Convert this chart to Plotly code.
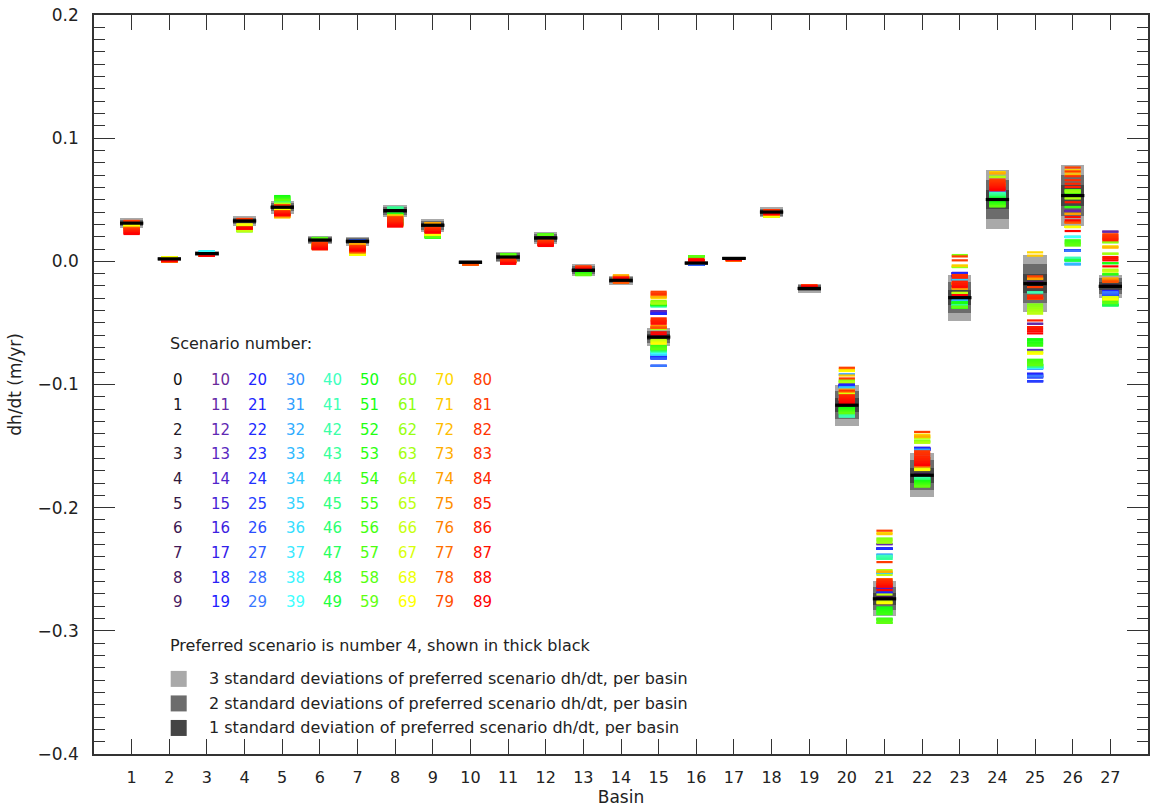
import numpy as np
import plotly.graph_objects as go

# ---------------- data (dh/dt in mm/yr, converted to m/yr below) ----------------
basins = list(range(1, 28))
preferred_scenario = 4
# one standard deviation of preferred scenario dh/dt, per basin (mm/yr)
sd_mm = [1.3, 0.55, 0.6, 1.27, 1.7, 1.08, 1.27, 1.6, 1.8, 0.55, 1.45, 1.6, 1.6, 1.2,
         2.5, 0.6, 0.5, 1.4, 1.2, 5.6, 4.7, 6.0, 6.2, 8.1, 7.8, 8.3, 3.2]

# scenario 0..89 dh/dt per basin (mm/yr), ten scenarios per row
b01 = [31, 31, 31, 31, 31, 31, 31, 31, 31, 31,
       29, 29, 29, 28.5, 28.5, 28.5, 28, 28, 28, 28,
       29, 29, 28.5, 28.5, 28, 28, 28, 27.5, 27.5, 27.5,
       28.5, 28.5, 28, 28, 28, 27.5, 27.5, 27, 27, 27,
       28.5, 28.5, 28.5, 28, 28, 28, 28, 28, 27.5, 27.5,
       28.5, 28.5, 28.5, 28.2, 28.2, 28.2, 28.2, 28, 28, 28,
       30, 30, 29.5, 29.5, 29.5, 29.3, 29.3, 29.3, 29.3, 29.3,
       27.5, 27.5, 27.2, 27.2, 27, 27, 27, 27, 26.8, 26.8,
       32.8, 32.5, 26, 25.5, 25, 24.5, 24, 23.3, 22.8, 22.2]
b02 = [2, 2, 2, 2, 2, 2, 2, 2, 2, 2,
       1.5, 1.5, 1.5, 1.5, 1.5, 1.5, 1.5, 1.5, 1.5, 1.5,
       1.5, 1.5, 1.5, 1.5, 1.5, 1.5, 1.5, 1.5, 1.5, 1.5,
       1.5, 1.5, 1.5, 1.5, 1.5, 1.5, 1.5, 1.5, 1.5, 1.5,
       1.5, 1.5, 1.5, 1.5, 1.5, 1.5, 1.5, 1.5, 1.5, 1.5,
       1.5, 1.5, 1.5, 1.5, 1.5, 1.5, 1.5, 1.5, 1.5, 1.5,
       3.2, 3.2, 3.2, 3.2, 3.2, 3.2, 3.2, 3.2, 3.2, 3.2,
       -0.3, -0.3, -0.3, -0.3, -0.3, -0.3, -0.3, -0.3, -0.3, -0.3,
       1, 1, 1, 0.8, 0.8, 0.8, 0.6, 0.6, 0.6, 0.6]
b03 = [6.3, 6.3, 6.3, 6.3, 6.3, 6.3, 6.3, 6.3, 6.3, 6.3,
       6, 6, 6, 6, 6, 6, 6, 6, 6, 6,
       6, 6, 6, 6, 6, 6, 6, 6, 6, 6,
       7.9, 7.9, 7.9, 7.9, 7.9, 7.9, 7.9, 7.9, 7.9, 7.9,
       5, 5, 5, 5, 5, 5, 5, 5, 5, 5,
       5, 5, 5, 5, 5, 5, 5, 5, 5, 5,
       5, 5, 5, 5, 5, 5, 5, 5, 5, 5,
       5, 5, 5, 5, 5, 5, 5, 5, 5, 5,
       4.8, 4.8, 4.8, 4.6, 4.6, 4.6, 4.6, 4.6, 4.6, 4.6]
b04 = [32.8, 32.8, 32.8, 32.8, 32.8, 32.8, 32.8, 32.8, 32.8, 32.8,
       28, 28, 27.8, 27.6, 27.4, 27.2, 27, 27, 26.8, 26.8,
       28, 28, 27.8, 27.6, 27.4, 27.2, 27, 27, 26.8, 26.8,
       28, 28, 27.8, 27.6, 27.4, 27.2, 27, 27, 26.8, 26.8,
       28, 28, 27.8, 27.6, 27.4, 27.2, 27, 27, 26.8, 26.8,
       28, 28, 27.8, 27.6, 27.4, 27.2, 27, 27, 26.8, 26.8,
       24.4, 24.4, 24.6, 24.8, 25, 25, 25, 29.8, 29.8, 29.8,
       27, 27, 27, 27, 27, 27, 27, 27, 27, 27,
       34.4, 34.2, 33.8, 27.6, 27.4, 27.2, 27, 26.8, 26.6, 26.6]
b05 = [44, 44, 44, 44, 43.9, 43.5, 43.5, 43.5, 43.5, 43.5,
       40, 40, 39.5, 39.5, 39, 39, 38.5, 38.5, 38, 38,
       40, 40, 39.5, 39.5, 39, 39, 38.5, 38.5, 38, 38,
       48.5, 48.5, 48.2, 48.2, 48, 40, 40, 39, 39, 38,
       48.5, 48.5, 48.5, 40, 39.5, 39, 39, 38.5, 38, 38,
       53, 52.5, 52, 51.5, 51, 50.5, 50, 50, 49.6, 49.6,
       46.6, 46.6, 46.6, 46.6, 46.6, 46.6, 42, 42, 42, 42,
       35.8, 35.8, 36, 36, 36.5, 37, 37, 37.5, 38, 38,
       45.5, 45.5, 40.7, 40.2, 39.7, 39.2, 38.7, 38.2, 37.8, 37.4]
b06 = [17.3, 17.3, 17.3, 17.3, 17.3, 17.3, 17.3, 17.3, 17.3, 17.3,
       14, 14, 13.5, 13, 13, 12.5, 12, 11.5, 11, 11,
       14, 14, 13.5, 13, 13, 12.5, 12, 11.5, 11, 11,
       14, 14, 13.5, 13, 13, 12.5, 12, 11.5, 11, 11,
       14, 14, 13.5, 13, 13, 12.5, 12, 11.5, 11, 11,
       18.9, 18.9, 18.9, 18.9, 18.7, 18.7, 18.5, 18.5, 18.5, 18.5,
       14, 14, 13.5, 13, 12.5, 12, 11.5, 11, 10.5, 10,
       14, 13.5, 13, 12.5, 12, 11.5, 11, 10.5, 10, 10,
       15.2, 14.6, 14, 13.4, 12.8, 12.2, 11.6, 11, 10.4, 9.8]
b07 = [16.3, 16.3, 16.3, 16.3, 16.3, 16.3, 16.3, 16.3, 16.3, 16.3,
       16.8, 16.8, 16.8, 16.8, 16.8, 16.8, 16.8, 16.8, 16.8, 16.8,
       16.8, 16.8, 16.8, 16.8, 16.8, 16.8, 16.8, 16.8, 16.8, 16.8,
       11, 11, 10.5, 10.5, 10, 10, 10, 9.5, 9.5, 9.5,
       11, 11, 10.5, 10.5, 10, 10, 10, 9.5, 9.5, 9.5,
       11, 11, 10.5, 10.5, 10, 10, 10, 9.5, 9.5, 9.5,
       5.4, 5.4, 5.4, 5.4, 5.4, 5.4, 5.4, 5.4, 5.4, 5.4,
       13.6, 13.6, 13.6, 13.6, 13.6, 7.5, 7.5, 7.5, 7.5, 7.5,
       12.4, 12, 11.6, 11.2, 10.8, 10.4, 10, 9.6, 9.2, 8.7]
b08 = [41.2, 41.2, 41.2, 41.2, 41.2, 41.2, 41.2, 41.2, 41.2, 41.2,
       34, 33.5, 33, 32.5, 32, 31.5, 31, 30.5, 30, 30,
       34, 33.5, 33, 32.5, 32, 31.5, 31, 30.5, 30, 30,
       34, 33.5, 33, 32.5, 32, 31.5, 31, 30.5, 30, 30,
       43.4, 43.4, 43.4, 43.4, 43.4, 38.5, 38.5, 38.5, 38.5, 38.5,
       38.5, 38.5, 38, 38, 36, 35, 34, 33, 32, 31,
       34, 33, 32, 31, 30, 30, 30, 29, 29, 29,
       37.3, 37, 36.5, 36, 35, 34, 33, 32, 31, 30,
       35.8, 35, 34, 33, 32, 31, 30.5, 29.8, 29, 28.2]
b09 = [29.3, 29.3, 29.3, 29.3, 29.3, 29.3, 29.3, 29.3, 29.3, 29.3,
       26, 26, 25.5, 25.5, 25, 25, 24.5, 24.5, 24, 24,
       26, 26, 25.5, 25.5, 25, 25, 24.5, 24.5, 24, 24,
       26, 26, 25.5, 25.5, 25, 25, 24.5, 24.5, 24, 24,
       26, 26, 25.5, 25.5, 25, 25, 24.5, 24.5, 24, 24,
       19.5, 19.5, 19.5, 19.5, 19.5, 20, 20, 20, 20, 20,
       21.7, 21.7, 21.7, 21.7, 21.7, 21.7, 21.7, 21.7, 21.7, 21.7,
       30.9, 30.9, 30.9, 30.9, 30.9, 26, 26, 25, 25, 24,
       27.6, 27, 26.5, 26, 25.5, 25, 24.5, 24, 23.6, 23.3]
b10 = [-0.8, -0.8, -0.8, -0.8, -0.8, -0.8, -0.8, -0.8, -0.8, -0.8,
       -1.2, -1.2, -1.2, -1.2, -1.2, -1.2, -1.2, -1.2, -1.2, -1.2,
       -1.2, -1.2, -1.2, -1.2, -1.2, -1.2, -1.2, -1.2, -1.2, -1.2,
       -1.2, -1.2, -1.2, -1.2, -1.2, -1.2, -1.2, -1.2, -1.2, -1.2,
       -1.2, -1.2, -1.2, -1.2, -1.2, -1.2, -1.2, -1.2, -1.2, -1.2,
       -1.2, -1.2, -1.2, -1.2, -1.2, -1.2, -1.2, -1.2, -1.2, -1.2,
       -1.2, -1.2, -1.2, -1.2, -1.2, -1.2, -1.2, -1.2, -1.2, -1.2,
       -2.7, -2.7, -2.7, -2.7, -2.7, -2.7, -2.7, -2.7, -2.7, -2.7,
       -1.2, -1.2, -1.2, -1.2, -1.2, -1.2, -1.2, -1.2, -1.2, -1.2]
b11 = [3.5, 3.5, 3.5, 3.5, 3.5, 3.5, 3.5, 3.5, 3.5, 3.5,
       0, 0, 0, 0, 0, 0, 0, 0, 0, 0,
       0, 0, 0, 0, 0, 0, 0, 0, 0, 0,
       0, 0, 0, 0, 0, 0, 0, 0, 0, 0,
       0, 0, 0, 0, 0, 0, 0, 0, 0, 0,
       5.4, 5.4, 5.4, 5.4, 5.4, 5.4, 5.4, 5.4, 5.4, 5.4,
       0, 0, 0, 0, 0, 0, 0, 0, 0, 0,
       0, 0, 0, 0, 0, 0, 0, 0, 0, 0,
       1.9, 1.5, 1, 0.5, 0, -0.5, -1, -1.5, -1.9, -1.9]
b12 = [19, 19, 19, 19, 19, 19, 19, 19, 19, 19,
       14, 14, 14, 14, 14, 14, 14, 14, 14, 14,
       14, 14, 14, 14, 14, 14, 14, 14, 14, 14,
       14, 14, 14, 14, 14, 14, 14, 14, 14, 14,
       14, 14, 14, 14, 14, 14, 14, 14, 14, 14,
       21.5, 21.5, 21.5, 21.5, 21.5, 21.5, 21.5, 21.5, 21.5, 21.5,
       14, 14, 14, 14, 14, 14, 14, 14, 14, 14,
       14, 14, 14, 14, 14, 14, 14, 14, 14, 14,
       17, 16.5, 16, 15.5, 15, 14.5, 14, 13.5, 13, 12.5]
b13 = [-7.3, -7.3, -7.3, -7.3, -7.3, -7.3, -7.3, -7.3, -7.3, -7.3,
       -10, -10, -10, -10, -10, -10, -10, -10, -10, -10,
       -10, -10, -10, -10, -10, -10, -10, -10, -10, -10,
       -10, -10, -10, -10, -10, -10, -10, -10, -10, -10,
       -10, -10, -10, -10, -10, -10, -10, -10, -10, -10,
       -9.5, -9.5, -10, -10, -10, -10.5, -10.5, -11.1, -11.1, -11.1,
       -5, -5, -5, -5, -5, -5, -5, -5, -5, -5,
       -5, -5, -5, -5, -5, -5, -5, -5, -5, -5,
       -4.1, -4.4, -4.7, -5, -5.3, -5.6, -5.9, -6.2, -6.2, -6.2]
b14 = [-15.4, -15.4, -15.4, -15.4, -15.4, -15.4, -15.4, -15.4, -15.4, -15.4,
       -13.5, -13.5, -13.5, -13.5, -13.5, -13.5, -13.5, -13.5, -13.5, -13.5,
       -13.5, -13.5, -13.5, -13.5, -13.5, -13.5, -13.5, -13.5, -13.5, -13.5,
       -13.5, -13.5, -13.5, -13.5, -13.5, -13.5, -13.5, -13.5, -13.5, -13.5,
       -13.5, -13.5, -13.5, -13.5, -13.5, -13.5, -13.5, -13.5, -13.5, -13.5,
       -13.5, -13.5, -13.5, -13.5, -13.5, -13.5, -13.5, -13.5, -13.5, -13.5,
       -13.5, -13.5, -13.5, -13.5, -13.5, -13.5, -13.5, -13.5, -13.5, -13.5,
       -11.7, -11.7, -11.7, -11.7, -11.7, -17.1, -17.1, -17.1, -17.1, -17.1,
       -12.8, -13, -13.2, -13.4, -13.6, -13.8, -13.8, -13.8, -13.8, -13.8]
b15 = [-62, -62, -61.5, -61.5, -61.5, -61.5, -61, -61, -60.5, -60.5,
       -40.4, -40.4, -41, -41.5, -42.5, -42.5, -77.2, -78, -78.9, -84.8,
       -42.5, -42.5, -77.2, -77.5, -78, -78.5, -78.9, -78.9, -84.8, -84.8,
       -74.5, -74.5, -75, -75, -75.6, -75.6, -75.6, -74, -74, -74,
       -36.6, -36.6, -36, -36, -73, -73, -72, -72, -71.3, -71.3,
       -35.5, -35.5, -35, -35, -68.5, -69, -69.5, -70, -70.5, -71.3,
       -32.3, -33, -33.5, -34.4, -55, -63.7, -64.5, -65.3, -66, -66.9,
       -30, -29, -28.5, -28.5, -52.3, -52.8, -53.4, -53.9, -53.9, -53.9,
       -24.7, -26, -27, -46.3, -47.5, -48.5, -49.5, -50.7, -57.7, -59.3]
b16 = [-1.4, -1.4, -1.4, -1.4, -1.4, -1.4, -1.4, -1.4, -1.4, -1.4,
       -2.4, -2.4, -2.4, -2.4, -2.4, -2.4, -2.4, -2.4, -2.4, -2.4,
       -2.4, -2.4, -2.4, -2.4, -2.4, -2.4, -2.4, -2.4, -2.4, -2.4,
       0.5, 0.5, 0.5, 0.5, 0.5, 0.5, 0.5, 0.5, 0.5, 0.5,
       0.5, 0.5, 0.5, 0.5, 0.5, 0.5, 0.5, 0.5, 0.5, 0.5,
       4.1, 4.1, 4.1, 4.1, 4.1, 4.1, 4.1, 4.1, 4.1, 4.1,
       1, 1, 1, 1, 1, 1, 1, 1, 1, 1,
       1, 1, 1, 1, 1, 1, 1, 1, 1, 1,
       1.9, 1.5, 1.1, 0.7, 0.2, 0.2, 0.2, 0.5, 1, 1.5]
b17 = [2.4, 2.4, 2.4, 2.4, 2.4, 2.4, 2.4, 2.4, 2.4, 2.4,
       2, 2, 2, 2, 2, 2, 2, 2, 2, 2,
       2, 2, 2, 2, 2, 2, 2, 2, 2, 2,
       2, 2, 2, 2, 2, 2, 2, 2, 2, 2,
       2, 2, 2, 2, 2, 2, 2, 2, 2, 2,
       2, 2, 2, 2, 2, 2, 2, 2, 2, 2,
       2, 2, 2, 2, 2, 2, 2, 2, 2, 2,
       0.8, 0.8, 0.8, 0.8, 0.8, 0.8, 0.8, 0.8, 0.8, 0.8,
       1.6, 1.6, 1.6, 1.6, 1.6, 1.6, 1.6, 1.6, 1.6, 1.6]
b18 = [40, 40, 40, 40, 40, 40, 40, 40, 40, 40,
       39, 39, 39, 39, 39, 39, 39, 39, 39, 39,
       39, 39, 39, 39, 39, 39, 39, 39, 39, 39,
       39, 39, 39, 39, 39, 39, 39, 39, 39, 39,
       39, 39, 39, 39, 39, 39, 39, 39, 39, 39,
       37, 37, 37, 37, 37, 37, 37, 37, 37, 37,
       36.5, 36.5, 36.5, 36.5, 36.5, 36.5, 36.5, 36.5, 36.5, 36.5,
       38, 38, 38, 38, 38, 38, 38, 38, 38, 38,
       41.5, 41.5, 41.5, 38.5, 38.5, 38.5, 38.5, 38.5, 38.5, 38.5]
b19 = [-22, -22, -22, -22, -22, -22, -22, -22, -22, -22,
       -21, -21, -21, -21, -21, -21, -21, -21, -21, -21,
       -21, -21, -21, -21, -21, -21, -21, -21, -21, -21,
       -21, -21, -21, -21, -21, -21, -21, -21, -21, -21,
       -21, -21, -21, -21, -21, -21, -21, -21, -21, -21,
       -21, -21, -21, -21, -21, -21, -21, -21, -21, -21,
       -21, -21, -21, -21, -21, -21, -21, -21, -21, -21,
       -21, -21, -21, -21, -21, -21, -21, -21, -21, -21,
       -19.3, -19.5, -19.8, -20, -20.3, -20.5, -20.5, -20.5, -20.5, -20.5]
b20 = [-117, -117, -117, -117, -116.8, -116.5, -116.5, -116, -116, -116,
       -100, -100, -100.5, -101, -101, -101.6, -101.6, -101.6, -101, -101,
       -100, -100.5, -101, -101.6, -102, -102, -110, -110, -110, -110,
       -91.9, -91.9, -102.5, -102.5, -102.5, -110, -110, -112, -112, -112,
       -126, -126, -125, -124, -123, -122, -121, -120, -119.5, -119,
       -119, -119.5, -120, -120.5, -121, -121.5, -122, -122.5, -123, -123.3,
       -96.5, -97, -97.5, -98, -98, -106.5, -107, -107.6, -89, -89,
       -87.5, -92.7, -104.3, -104.3, -106, -110, -112, -112, -112, -112,
       -86.4, -95.1, -105, -108.7, -109.5, -110.5, -111.5, -112.5, -114, -115.2]
b21 = [-274, -274, -274, -274, -274, -273.5, -273, -272.5, -269.1, -265,
       -229.6, -229.6, -233.3, -233.3, -233.3, -265, -265, -265, -269.1, -269.1,
       -233.3, -233.3, -233.3, -233.3, -262, -262, -262, -262, -262, -262,
       -238.2, -238.2, -253.2, -253.2, -253.2, -240, -240, -240, -260, -260,
       -239, -240, -241.5, -241.5, -285, -286, -286.4, -290.2, -291, -293.5,
       -281, -282, -283, -284, -285, -286.4, -290.2, -291, -292.5, -293.5,
       -225, -226, -227, -228.5, -250.7, -254.6, -270.5, -276, -277, -277.6,
       -220.5, -221.5, -252, -252, -258, -260, -262, -262, -262, -262,
       -218.7, -244.2, -258.3, -259.5, -260.5, -261.5, -262.5, -263.5, -264.2, -266.8]
b22 = [-174, -174, -173.7, -173.7, -173.7, -173.5, -173.5, -173, -173, -173,
       -151.5, -151.5, -152, -152, -152.5, -152.5, -153.1, -153.1, -153.1, -153.1,
       -151.5, -152, -152.5, -153.1, -160, -160, -160, -160, -160, -160,
       -153, -153, -160, -160, -160, -160, -160, -160, -160, -160,
       -175, -175.5, -176, -176.5, -177, -177, -178, -178, -179, -179,
       -178.6, -179, -179.5, -180, -180.5, -181, -181.5, -182, -182.5, -182.9,
       -145.5, -146, -146.5, -147.2, -147.2, -143.5, -143.5, -168.3, -168.8, -169.4,
       -140.7, -141.5, -142.3, -142.3, -166.5, -166.5, -160, -160, -160, -160,
       -138.5, -154.2, -155.5, -157, -158.5, -160, -161.5, -163, -164.5, -165.6]
b23 = [-30, -30, -29.5, -29.5, -29.5, -29.5, -29, -29, -29, -29,
       -9.5, -9.5, -9.5, -10, -10, -12, -12, -12, -12, -12,
       -9.5, -10, -12, -12, -15, -15, -15, -15, -15, -15,
       -31.7, -31.7, -31.7, -31.7, -15, -15, -18, -18, -18, -18,
       -35.5, -35.5, -35.5, -35.5, -35.5, -33.5, -33.5, -33.5, -33.5, -33.5,
       -33.5, -33.5, -37.6, -37.6, -37.6, -37.6, -37.6, -37, -37, -37,
       5.1, -4.6, -4.6, -25.7, -25.7, -25.7, -18, -18, -18, -18,
       -3.5, -3.5, -22, -22, -22, -18, -18, -18, -18, -18,
       4, 0.8, -11.1, -12, -13.3, -16.5, -18, -19.5, -20.9, -27.4]
b24 = [50.5, 50.5, 50.2, 50.2, 50.2, 50, 50, 50, 50, 50,
       57.2, 57.2, 57.2, 57.2, 57.2, 57, 57, 57, 57, 57,
       57, 57, 57, 57, 56.8, 56.8, 56.8, 56.8, 56.8, 56.8,
       55, 55, 54, 54, 53, 53, 52, 52, 52, 52,
       55.5, 55, 54.5, 54, 53.5, 53, 52.5, 52, 51.8, 51.8,
       48.5, 48, 47.5, 47, 46.5, 46, 45.5, 45, 44.7, 44.7,
       68.5, 68.5, 68.5, 68.5, 68.5, 62, 62, 62, 62, 62,
       72.4, 72, 71.7, 71.3, 63, 63, 63, 62, 62, 62,
       66.4, 65.5, 64.5, 63.5, 62.5, 61.5, 60.5, 59.5, 58.5, 57.7]
b25 = [-19, -18.5, -18.5, -18.1, -18.1, -18, -18, -17.5, -17.5, -17,
       -50.7, -50.7, -72, -72, -91.3, -92, -93, -94.1, -97.3, -97.3,
       -91.3, -92, -93, -94.1, -97.3, -97.3, -94, -94, -93, -93,
       -87, -87, -87, -86.5, -86.5, -86, -86, -86, -86, -86,
       -25.2, -25.2, -85.5, -85.5, -85.5, -84.3, -84.3, -84, -84, -84,
       -63.2, -64.5, -66, -67, -68.5, -79.9, -81, -82, -83, -84.3,
       -35, -36.5, -38, -39.5, -41, -42.5, -73.5, -74, -74.5, -75,
       7.3, 4.6, -14, -14, -14, -30, -30, -30, -30, -30,
       -12.2, -20.9, -27.9, -29, -30.1, -48, -53.4, -55, -56.7, -58.5]
b26 = [54, 54, 53.5, 53.5, 53.4, 53, 53, 52.5, 40.9, 40.9,
       40.9, 40.9, 8.9, 8.9, 8.9, 8.9, 8.9, 8.9, 8.9, 8.9,
       8.9, 8.9, 8.9, 8.9, 8.5, 8.5, 8.5, 8.5, 8.5, 8.5,
       -2.4, -2.4, -2, -2, 19.8, 19.8, 19.8, 19.8, 19.8, 19.8,
       3, 2.5, 2, 1.5, 1, 0.8, 0.8, 0.8, 0.8, 0.8,
       57.7, 56.5, 55, 44.1, 44.1, 17.1, 16, 15, 14, 12.8,
       57.7, 57, 56, 51.2, 51.2, 27.9, 27.9, 27.9, 27.9, 27.9,
       74, 72, 70, 38.5, 38.5, 31.7, 31.7, 31.7, 31.7, 31.7,
       76.2, 73, 69.1, 65.9, 63, 60.4, 48, 36, 33.3, 24.6]
b27 = [-20.5, -20.5, -20.3, -20.3, -20.3, -20, -20, -20, -20, -20,
       24.1, 24.1, -24.1, -24.1, -25, -25, -26, -26, -27.4, -27.4,
       -24.1, -25, -26, -27.4, -27.4, -27, -27, -26, -26, -25,
       -35.5, -35.5, -35, -35, -35, -35, -35, -35, -35, -35,
       -35.5, -35.5, -35.5, -35.5, -35.5, -35.5, -35.5, -35.5, -35.5, -35.5,
       -1.5, -1.5, -10.5, -10.5, -29, -30, -31, -32, -33, -33.9,
       15.5, 15.5, 6.2, 6.2, -6.7, -7.5, -8.4, -29, -30, -31,
       12.2, 11.6, 11.1, -13.8, -14.5, -15, -15.5, -16, -16.5, -16.5,
       22, 21, 20, 19, 18, 17.1, 3.5, 2.2, 0.8, -4.1]

scenario_rows = [b01, b02, b03, b04, b05, b06, b07, b08, b09, b10, b11, b12, b13, b14,
                 b15, b16, b17, b18, b19, b20, b21, b22, b23, b24, b25, b26, b27]

legend_lines = ["3 standard deviations of preferred scenario dh/dt, per basin",
                "2 standard deviations of preferred scenario dh/dt, per basin",
                "1 standard deviation of preferred scenario dh/dt, per basin"]

# ---------------- styling ----------------
FONT = "DejaVu Sans"
TXT = "#222222"
anchors = [(0, "#101010"), (3, "#2a1a30"), (6, "#3c1650"), (9, "#4a1a64"),
           (10, "#6a2a9a"), (13, "#5a28c0"), (16, "#3c20e0"), (19, "#2020ff"),
           (24, "#2030ff"), (29, "#3a78ff"), (30, "#3090ff"), (34, "#30c8ff"),
           (39, "#40ffff"), (40, "#40ffc0"), (45, "#30ff80"), (49, "#20ff40"),
           (50, "#10ff10"), (59, "#60ff10"), (60, "#80ff10"), (66, "#c8ff10"),
           (69, "#ffff00"), (70, "#ffd800"), (74, "#ffa000"), (79, "#ff5000"),
           (80, "#ff4000"), (85, "#ff2000"), (89, "#ff0000")]


def hex2rgb(h):
    return np.array([int(h[i:i + 2], 16) for i in (1, 3, 5)], float)


aidx = np.array([a[0] for a in anchors], float)
argb = np.array([hex2rgb(a[1]) for a in anchors])
scen_colors = []
for i in range(90):
    c = [np.interp(i, aidx, argb[:, k]) for k in range(3)]
    scen_colors.append("rgb(%d,%d,%d)" % tuple(int(round(v)) for v in c))

vals = np.array(scenario_rows, float) / 1000.0      # m/yr, shape (27, 90)
sd = np.array(sd_mm) / 1000.0
pref = vals[:, preferred_scenario]

fig = go.Figure()

box_colors = {3: "#a9a9a9", 2: "#6c6c6c", 1: "#454545"}
for k in (3, 2, 1):
    fig.add_trace(go.Bar(x=basins, y=2 * k * sd, base=pref - k * sd, width=0.62,
                         marker=dict(color=box_colors[k], line=dict(width=0)),
                         hoverinfo="skip", showlegend=False))

half_c = 0.215
for i in range(90):
    if i == preferred_scenario:
        continue
    xs, ys = [], []
    for bi, b in enumerate(basins):
        xs += [b - half_c, b + half_c, None]
        ys += [vals[bi, i], vals[bi, i], None]
    fig.add_trace(go.Scatter(x=xs, y=ys, mode="lines",
                             line=dict(color=scen_colors[i], width=2.2),
                             hoverinfo="skip", showlegend=False))

xs, ys = [], []
for bi, b in enumerate(basins):
    xs += [b - 0.31, b + 0.31, None]
    ys += [pref[bi], pref[bi], None]
fig.add_trace(go.Scatter(x=xs, y=ys, mode="lines", line=dict(color="black", width=3.2),
                         hoverinfo="skip", showlegend=False))


# legend block (placed in data coordinates from pixel rows)
def ypix(p):
    return (261.0 - p) / 1230.0


ann = []
ann.append(dict(x=1.96, y=ypix(343), text="Scenario number:", xanchor="left",
                yanchor="middle", showarrow=False, font=dict(size=16, color=TXT, family=FONT)))
for c in range(9):
    for r in range(10):
        n = 10 * c + r
        ann.append(dict(x=2.05 + c * 0.995, y=ypix(380 + 24.6 * r), text=str(n),
                        xanchor="left", yanchor="middle", showarrow=False,
                        font=dict(size=15, color=scen_colors[n], family=FONT)))
ann.append(dict(x=1.96, y=ypix(645), text="Preferred scenario is number %d, shown in thick black"
                % preferred_scenario, xanchor="left", yanchor="middle", showarrow=False,
                font=dict(size=16, color=TXT, family=FONT)))
leg_y = [ypix(678 + 24.5 * j) for j in range(3)]
for j, t in enumerate(legend_lines):
    ann.append(dict(x=3.0, y=leg_y[j], text=t, xanchor="left", yanchor="middle",
                    showarrow=False, font=dict(size=16, color=TXT, family=FONT)))
fig.add_trace(go.Scatter(x=[2.25, 2.25, 2.25], y=leg_y, mode="markers",
                         marker=dict(symbol="square", size=16,
                                     color=[box_colors[3], box_colors[2], box_colors[1]]),
                         hoverinfo="skip", showlegend=False))

fig.update_layout(
    width=1153, height=810, margin=dict(l=94, r=3, t=15, b=56),
    paper_bgcolor="white", plot_bgcolor="white", barmode="overlay", bargap=0,
    showlegend=False, annotations=ann,
    font=dict(family=FONT, color=TXT, size=16),
)
fig.update_xaxes(range=[0, 28], tickvals=basins, ticks="inside", ticklen=15, tickwidth=1,
                 tickcolor="#333", showline=True, linecolor="#333", linewidth=1.5,
                 mirror="ticks", showgrid=False, zeroline=False,
                 tickfont=dict(size=16, family=FONT, color=TXT), ticklabelstandoff=8,
                 title=dict(text="Basin", font=dict(size=17, family=FONT, color=TXT), standoff=4))
fig.update_yaxes(range=[-0.4, 0.2], dtick=0.1, tick0=0, tickformat=".1f", ticks="inside",
                 ticklen=21, tickwidth=1, tickcolor="#333", showline=True, linecolor="#333",
                 linewidth=1.5, mirror="ticks", showgrid=False, zeroline=False,
                 minor=dict(dtick=0.01, ticks="inside", ticklen=11, tickcolor="#333", showgrid=False),
                 tickfont=dict(size=17, family=FONT, color=TXT), ticklabelstandoff=10,
                 title=dict(text="dh/dt (m/yr)", font=dict(size=17, family=FONT, color=TXT), standoff=12))

fig.write_html("out.html")
